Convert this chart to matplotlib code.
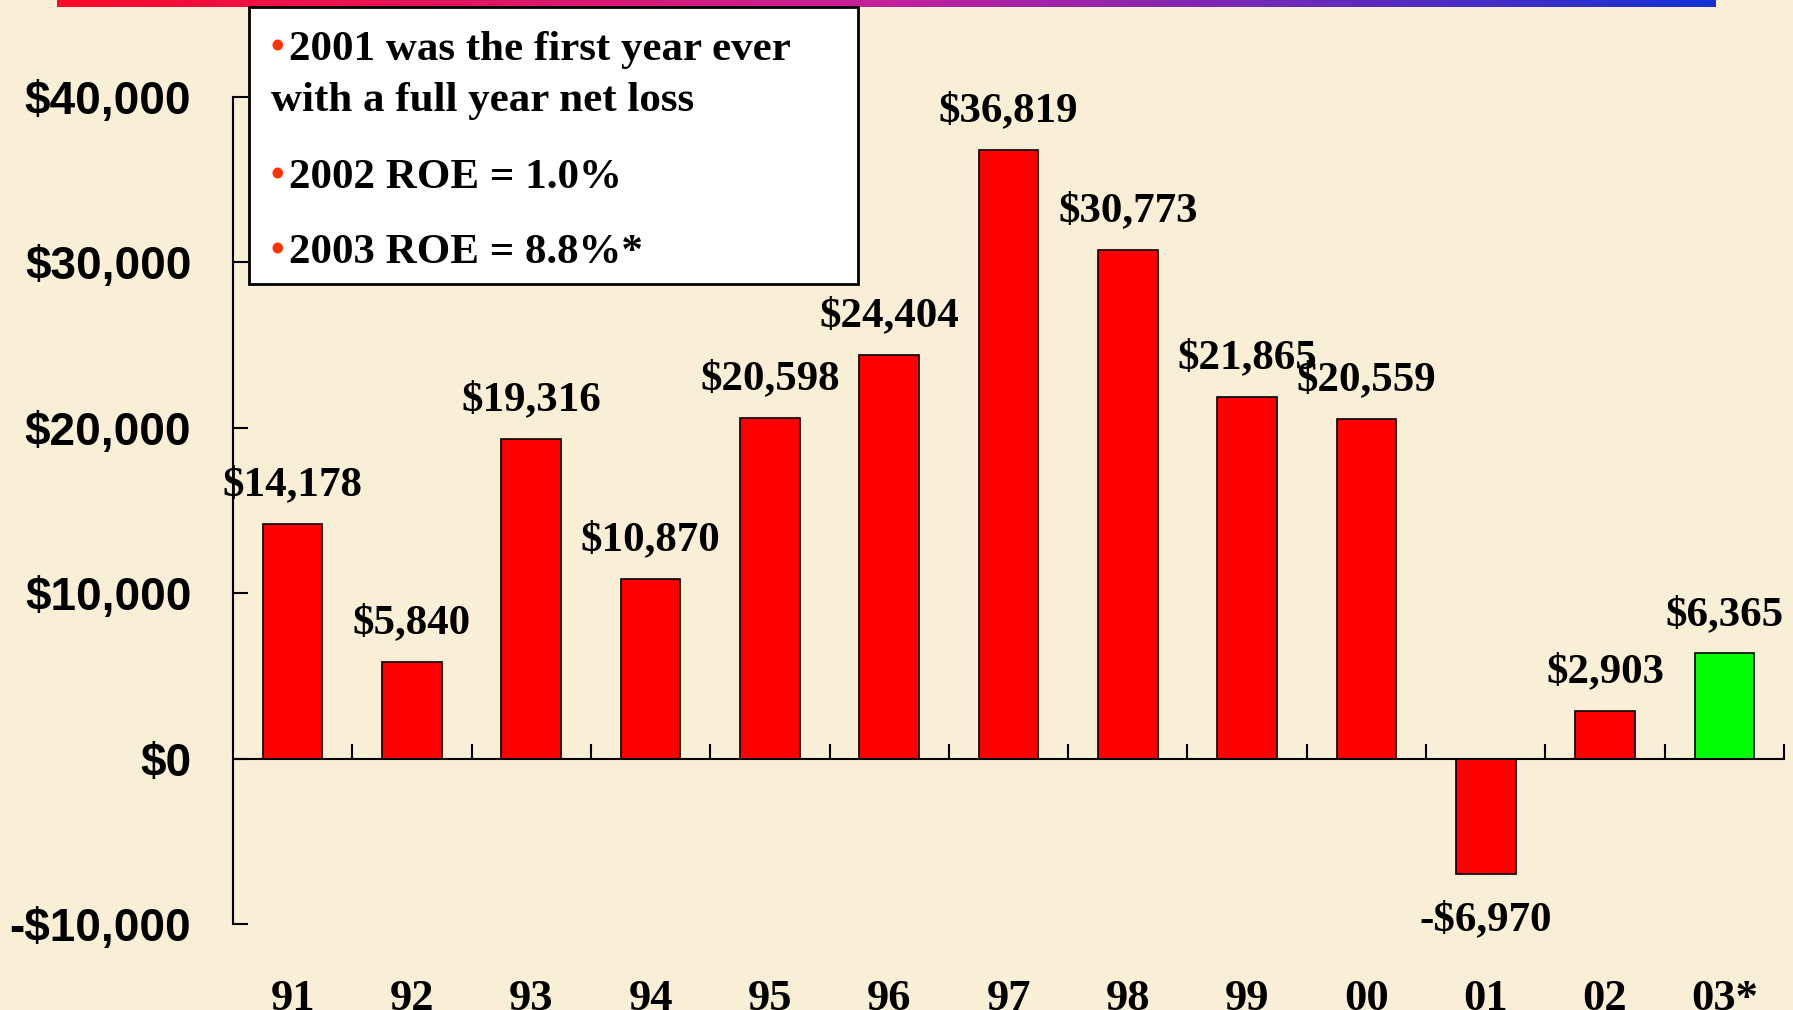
"""Net income by year, bar chart with annotation box."""

import matplotlib

matplotlib.use("Agg")
import matplotlib.pyplot as plt
import numpy as np
from matplotlib.colors import LinearSegmentedColormap
from matplotlib.patches import Rectangle

years = ["91", "92", "93", "94", "95", "96", "97", "98", "99", "00", "01", "02", "03*"]
net_income = [14178, 5840, 19316, 10870, 20598, 24404, 36819, 30773, 21865, 20559, -6970, 2903, 6365]
bar_colors = ["#FF0000"] * 12 + ["#00FF00"]
y_ticks = [-10000, 0, 10000, 20000, 30000, 40000]
notes = [
    ("2001 was the first year ever", True),
    ("with a full year net loss", False),
    ("2002 ROE = 1.0%", True),
    ("2003 ROE = 8.8%*", True),
]

W, H = 1793, 1010
BG = "#F9EED6"
SERIF = ["Liberation Serif", "DejaVu Serif"]
SANS = ["Liberation Sans", "DejaVu Sans"]


def money(v):
    return f"-${-v:,}" if v < 0 else f"${v:,}"


plt.rcParams["font.family"] = SERIF
fig = plt.figure(figsize=(W / 100, H / 100), dpi=100, facecolor=BG)

# gradient strip along the top edge
strip = fig.add_axes([57 / W, 1 - 7 / H, (1716 - 57) / W, 7 / H])
cmap = LinearSegmentedColormap.from_list("strip", ["#FF0A28", "#C4209C", "#1432D6"])
strip.imshow(np.linspace(0, 1, 256)[None, :], aspect="auto", cmap=cmap)
strip.axis("off")

ax = fig.add_axes([233 / W, 1 - 924 / H, (1784 - 233) / W, (924 - 97) / H])
ax.patch.set_alpha(0)
x = np.arange(len(years))
ax.bar(x, net_income, width=0.5, color=bar_colors, edgecolor="black", linewidth=1.2, zorder=3)

ax.set_xlim(-0.5, len(years) - 0.5)
ax.set_ylim(y_ticks[0], y_ticks[-1])
for side in ("top", "right"):
    ax.spines[side].set_visible(False)
ax.spines["bottom"].set_position(("data", 0))
ax.spines["bottom"].set_zorder(4)
for side in ("left", "bottom"):
    ax.spines[side].set_linewidth(1.5)

ax.set_yticks(y_ticks)
ax.set_yticklabels([money(v) for v in y_ticks], family=SANS, fontweight="bold", fontsize=33)
ax.tick_params(axis="y", direction="in", length=11, width=1.5, pad=30)
ax.set_xticks(x + 0.5)
ax.set_xticklabels([])
ax.tick_params(axis="x", direction="in", length=11, width=1.5)

for xi, lbl in zip(x, years):
    ax.text(xi, -0.104, lbl, transform=ax.get_xaxis_transform(), ha="center",
            va="baseline", fontsize=32, fontweight="bold")

for xi, v in zip(x, net_income):
    ax.annotate(money(v), (xi, v), xytext=(0, 14 if v >= 0 else -20), textcoords="offset points",
                ha="center", va="bottom" if v >= 0 else "top", fontsize=31, fontweight="bold",
                annotation_clip=False)

# notes box
fig.patches.append(Rectangle((249 / W, 1 - 284 / H), 609 / W, 277 / H, transform=fig.transFigure,
                             facecolor="white", edgecolor="black", linewidth=2, zorder=5))
line_y = [50, 101, 178, 253]
for (txt, bullet), yy in zip(notes, line_y):
    x0 = 271
    if bullet:
        fig.text(x0 / W, 1 - yy / H, "\u2022", color="#FF3300", fontsize=28, fontweight="bold",
                 va="center", zorder=6)
        x0 = 289
    fig.text(x0 / W, 1 - yy / H, txt, fontsize=31, fontweight="bold", va="center", zorder=6)

fig.savefig("out.png", dpi=100, facecolor=BG)
